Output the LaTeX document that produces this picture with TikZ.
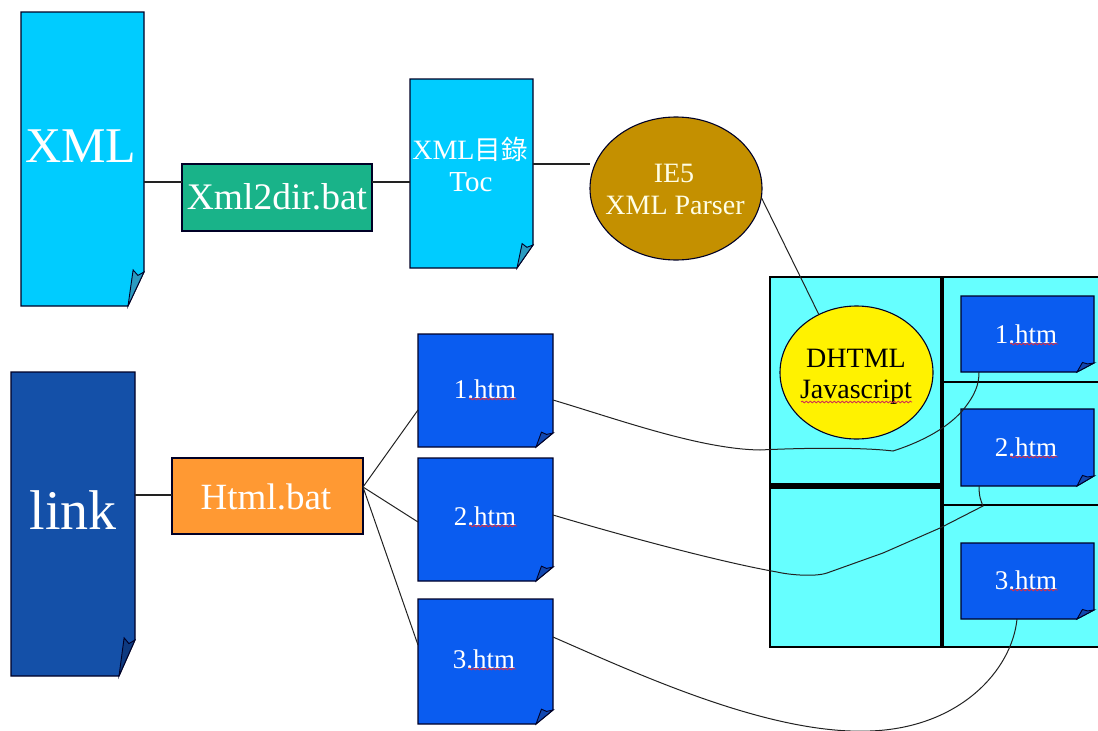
\documentclass[tikz,border=0pt]{standalone}
\usepackage{fontspec}
\setmainfont{Liberation Serif}
\newfontfamily\cjkfont[Scale=0.95]{Noto Sans CJK TC}
\usetikzlibrary{fit,shapes.geometric,decorations.pathmorphing}
\definecolor{skydoc}{HTML}{00CCFF}
\definecolor{skyfold}{HTML}{2A9AC0}
\definecolor{navydoc}{HTML}{1450A8}
\definecolor{navyfold}{HTML}{0E3A80}
\definecolor{htmblue}{HTML}{0A5CF0}
\definecolor{htmfold}{HTML}{1248B0}
\definecolor{batgreen}{HTML}{19B389}
\definecolor{batorange}{HTML}{FF9933}
\definecolor{parsergold}{HTML}{C49000}
\definecolor{framecyan}{HTML}{66FFFF}
\definecolor{linegrey}{HTML}{222222}
\definecolor{squigred}{HTML}{D03050}
\tikzset{
  outline/.style={draw=black!85!blue,line width=1.1pt},
  anchorbox/.style={inner sep=0pt,outer sep=0pt},
  conn/.style={draw=linegrey,line width=1.2pt},
  lab/.style={inner sep=0pt,outer sep=0pt,text=white,align=center,font=\fontsize{#1}{#1}\selectfont},
  blk/.style={inner sep=0pt,outer sep=0pt,text=black,align=center,font=\fontsize{#1}{#1}\selectfont},
  squig/.style={draw=squigred,line width=0.8pt,decorate,decoration={snake,amplitude=0.9pt,segment length=4pt}},
  partline/.style={draw=black,line width=#1},
}
% name, x0, y0, x1, y1, fold x on bottom, fold y on right, fill, fold fill
\newcommand{\docshape}[9]{%
  \pgfmathsetmacro{\foldix}{#6+(#4-#6)*0.32}%
  \pgfmathsetmacro{\foldiy}{#7-(#5-#7)*0.06}%
  \pgfmathsetmacro{\foldjx}{#6+(#4-#6)*0.62}%
  \pgfmathsetmacro{\foldjy}{#7+(#5-#7)*0.10}%
  \draw[outline,fill=#8] (#2,#3) -- (#4,#3) -- (#4,#7) -- (#6,#5) -- (#2,#5) -- cycle;
  \draw[outline,line width=0.9pt,fill=#9] (#6,#5) -- (\foldix,\foldiy) -- (\foldjx,\foldjy) -- (#4,#7) -- cycle;
  \node[anchorbox,fit={(#2,#3)(#4,#5)}] (#1) {};
}
\begin{document}
\begin{tikzpicture}[x=1pt,y=-1pt]
\useasboundingbox (0,0) rectangle (1098,731);
\fill[white] (0,0) rectangle (1098,731);

% page frame
\node[anchorbox,fit={(770,277)(1098,647)},fill=framecyan] (frame) {};
\draw[partline=2.4pt] (1098,277) -- (770,277) -- (770,647) -- (1098,647);
\draw[partline=3.6pt] (942,277) -- (942,647);
\draw[partline=6pt] (770,486) -- (942,486);
\draw[partline=1.6pt] (942,382) -- (1098,382);
\draw[partline=1.6pt] (942,505) -- (1098,505);

% documents
\docshape{xmldoc}{21}{12}{144}{306}{128}{272}{skydoc}{skyfold}
\docshape{linkdoc}{11}{372}{135}{676}{119}{640}{navydoc}{navyfold}
\docshape{tocdoc}{410}{79}{533}{268}{517}{245}{skydoc}{skyfold}
\docshape{hA}{418}{334}{553}{447}{536}{433}{htmblue}{htmfold}
\docshape{hB}{418}{458}{553}{581}{536}{567}{htmblue}{htmfold}
\docshape{hC}{418}{599}{553}{724}{536}{710}{htmblue}{htmfold}
\docshape{fA}{961}{296}{1094}{372}{1077}{363}{htmblue}{htmfold}
\docshape{fB}{961}{409}{1094}{486}{1077}{476}{htmblue}{htmfold}
\docshape{fC}{961}{543}{1094}{619}{1077}{610}{htmblue}{htmfold}

% process boxes
\node[anchorbox,outline,fill=batgreen,fit={(182,164)(372,231)}] (xmlbat) {};
\node[anchorbox,outline,fill=batorange,fit={(172,458)(363,534)}] (htmlbat) {};

% ellipses
\node[ellipse,anchorbox,outline,fill=parsergold,minimum width=172pt,minimum height=143pt] (parser) at (676,188.5) {};
\node[ellipse,anchorbox,outline,fill=yellow,minimum width=153pt,minimum height=133pt] (dhtml) at (856.5,372.5) {};

% connectors
\draw[conn] (xmldoc.east |- 0,182) -- (xmlbat.west |- 0,182);
\draw[conn] (xmlbat.east |- 0,182) -- (tocdoc.west |- 0,182);
\draw[conn] (tocdoc.east |- 0,164) -- (parser.west |- 0,164);
\draw[conn,line width=1pt] (parser.-6) -- (dhtml.123);
\draw[conn] (linkdoc.east |- 0,495) -- (htmlbat.west |- 0,495);
\coordinate (fan) at (363,487);
\draw[conn,line width=1pt] (fan) -- (hA.west |- 0,410);
\draw[conn,line width=1pt] (fan) -- (hB.west |- 0,522);
\draw[conn,line width=1pt] (fan) -- (hC.west |- 0,645);

\draw[conn,line width=1pt] (hA.east |- 0,400) .. controls (620,420) and (700,449) .. (760,450)
  .. controls (800,448) and (860,447) .. (893,451)
  .. controls (915,444) and (945,431) .. (963,410)
  .. controls (975,395) and (979,385) .. (fA.south -| 979,0);
\draw[conn,line width=1pt] (hB.east |- 0,515) .. controls (620,535) and (720,562) .. (777,572)
  .. controls (790,575) and (815,577) .. (827,573)
  -- (883,553) -- (940,528) -- (983,506)
  .. controls (981,501) and (979,497) .. (fB.south -| 979,0);
\draw[conn,line width=1pt] (hC.east |- 0,637) .. controls (640,675) and (770,735) .. (870,731)
  .. controls (960,728) and (1012,670) .. (fC.south -| 1017,0);

% labels
\node[lab=50] (t1) at (81,146) {XML};
\node[lab=56] (t2) at (73,510) {link};
\node[lab=37.5] (t3) at (277,197) {Xml2dir.bat};
\node[lab=37] (t4) at (266,497) {Html.bat};
\node[lab=28] (t5) at (470,149) {XML{\cjkfont 目錄}};
\node[lab=29] (t6) at (471,182) {Toc};
\node[lab=28,text=white!90!yellow] (t7) at (674,173) {IE5};
\node[lab=28,text=white!90!yellow] (t8) at (675,205) {XML Parser};
\node[blk=28] (t9) at (856,358) {DHTML};
\node[blk=28] (t10) at (856,392) {Javascript};
\node[lab=27] (t11) at (485,389) {1.htm};
\node[lab=27] (t12) at (485,516) {2.htm};
\node[lab=27] (t13) at (484,659) {3.htm};
\node[lab=27] (t14) at (1026,334) {1.htm};
\node[lab=27] (t15) at (1026,447) {2.htm};
\node[lab=27] (t16) at (1026,580) {3.htm};

% spelling squiggles
\foreach \n in {t11,t12,t13,t14,t15,t16} {
  \draw[squig] ([xshift=-16pt,yshift=-10pt]\n.center) -- ([xshift=32pt,yshift=-10pt]\n.center);
}
\draw[squig] ([xshift=-55pt,yshift=-10pt]t10.center) -- ([xshift=56pt,yshift=-10pt]t10.center);
\end{tikzpicture}
\end{document}
